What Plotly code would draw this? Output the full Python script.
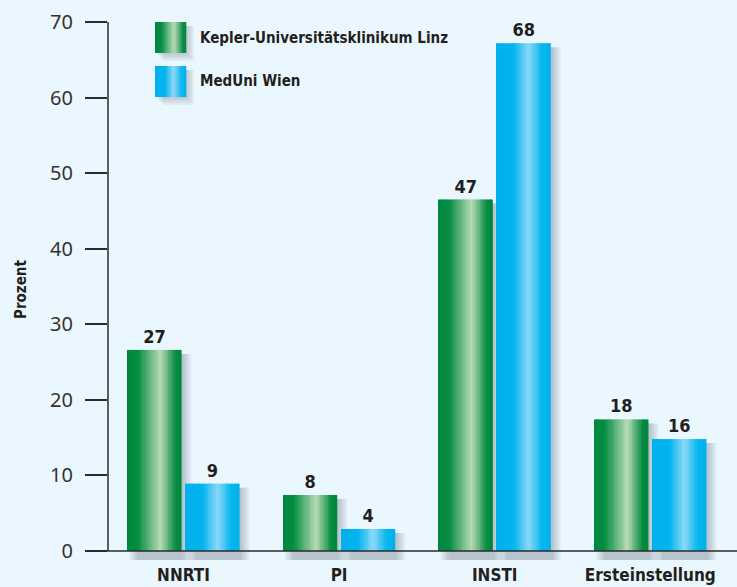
import plotly.graph_objects as go

categories = ["NNRTI", "PI", "INSTI", "Ersteinstellung"]
series_names = ["Kepler-Universitätsklinikum Linz", "MedUni Wien"]
linz_values = [26.6, 7.4, 46.5, 17.4]
wien_values = [8.9, 2.9, 67.2, 14.8]
linz_labels = ["27", "8", "47", "18"]
wien_labels = ["9", "4", "68", "16"]
y_ticks = [0, 10, 20, 30, 40, 50, 60, 70]

# ---- styling / layout constants ----
W, H = 737, 587
ML, MR, MT, MB = 108, 0, 22, 24
PW, PH = W - ML - MR, H - MT - MB
YMIN, YMAX = -1.6, 70
XMIN, XMAX = -0.485, 3.557
BG = "#EBF7FE"
COND = "DejaVu Sans Condensed, Liberation Sans Narrow, DejaVu Sans"
REG = "Noto Sans, Open Sans, sans-serif"
TXT = "#231f20"

green_stops = [(0.0, (0, 136, 62)), (0.2, (4, 140, 66)), (0.62, (184, 219, 182)),
               (0.9, (8, 139, 66)), (1.0, (0, 136, 62))]
blue_stops = [(0.0, (0, 176, 236)), (0.33, (4, 180, 238)), (0.6, (140, 216, 248)),
              (0.85, (6, 182, 238)), (1.0, (0, 178, 236))]


def grad(stops, t):
    for (t0, c0), (t1, c1) in zip(stops, stops[1:]):
        if t0 <= t <= t1:
            f = 0 if t1 == t0 else (t - t0) / (t1 - t0)
            c = [round(a + (b - a) * f) for a, b in zip(c0, c1)]
            return "rgb(%d,%d,%d)" % tuple(c)
    c = stops[-1][1]
    return "rgb(%d,%d,%d)" % c


px_per_x = PW / (XMAX - XMIN)
px_per_y = PH / (YMAX - YMIN)
BW = 54 / px_per_x
GAP = 4 / px_per_x
offsets = [-(BW + GAP / 2), GAP / 2]
N = 30

fig = go.Figure()

series = [(linz_values, linz_labels, green_stops), (wien_values, wien_labels, blue_stops)]

# shadows
for (vals, labs, stops), off in zip(series, offsets):
    for k, dx in enumerate([2, 4, 6, 8, 10]):
        down = 4 / px_per_y
        base = -(9 / px_per_y)
        fig.add_trace(go.Bar(
            x=categories, y=[v - down - base for v in vals], base=base,
            offset=off + dx / px_per_x, width=BW,
            marker=dict(color="rgba(70,90,100,0.07)", line=dict(width=0)),
            showlegend=False, hoverinfo="skip"))

# gradient strips
for (vals, labs, stops), off in zip(series, offsets):
    sw = BW / N
    for i in range(N):
        t = (i + 0.5) / N
        fig.add_trace(go.Bar(
            x=categories, y=vals, offset=off + i * sw, width=sw * 1.08,
            marker=dict(color=grad(stops, t), line=dict(width=0)),
            showlegend=False, hoverinfo="skip"))

# value labels
for (vals, labs, stops), off in zip(series, offsets):
    fig.add_trace(go.Bar(
        x=categories, y=vals, offset=off, width=BW,
        marker=dict(color="rgba(0,0,0,0)", line=dict(width=0)),
        text=labs, textposition="outside", constraintext="none", cliponaxis=False,
        textfont=dict(family=COND, size=18, color=TXT, weight="bold"),
        showlegend=False, hoverinfo="skip"))


def px_x(p):
    return (p - ML) / PW


def px_y(p):
    return (H - MB - p) / PH


shapes = []
# axis lines
y0p = px_y(MT + (YMAX - 0) * px_per_y)
shapes.append(dict(type="line", xref="paper", yref="paper", x0=px_x(86), x1=1, y0=y0p, y1=y0p,
                   line=dict(color="#2b2b2b", width=1.5)))
shapes.append(dict(type="line", xref="paper", yref="paper", x0=0, x1=0, y0=y0p, y1=1,
                   line=dict(color="#2b2b2b", width=1.5)))

# legend swatches
annotations = []
for j, (name, stops) in enumerate(zip(series_names, [green_stops, blue_stops])):
    top = 22 + j * 44
    left, size = 155, 31
    for dx in [2, 4, 6, 8]:
        shapes.append(dict(type="rect", xref="paper", yref="paper",
                           x0=px_x(left + dx), x1=px_x(left + size + dx),
                           y0=px_y(top + size + dx), y1=px_y(top + 4),
                           line=dict(width=0), fillcolor="rgba(70,90,100,0.07)", layer="above"))
    n = 16
    for i in range(n):
        t = (i + 0.5) / n
        shapes.append(dict(type="rect", xref="paper", yref="paper",
                           x0=px_x(left + size * i / n), x1=px_x(left + size * (i + 1) / n + 0.3),
                           y0=px_y(top + size), y1=px_y(top),
                           line=dict(width=0), fillcolor=grad(stops, t), layer="above"))
    annotations.append(dict(xref="paper", yref="paper", x=px_x(198), y=px_y(top + size / 2),
                            xanchor="left", yanchor="middle", showarrow=False, text=name,
                            font=dict(family=COND, size=15, color=TXT, weight="bold")))

annotations.append(dict(xref="paper", yref="paper", x=px_x(21), y=px_y(290),
                        xanchor="center", yanchor="middle", showarrow=False, text="Prozent",
                        textangle=-90, font=dict(family=COND, size=15, color=TXT, weight="bold")))

fig.update_layout(
    width=W, height=H, margin=dict(l=ML, r=MR, t=MT, b=MB, pad=0, autoexpand=False),
    paper_bgcolor=BG, plot_bgcolor=BG, barmode="overlay", hovermode=False,
    shapes=shapes, annotations=annotations, showlegend=False,
    xaxis=dict(range=[XMIN, XMAX], showgrid=False, zeroline=False, showline=False,
               automargin=False, ticks="", ticklen=0,
               tickfont=dict(family=COND, size=17, color=TXT, weight="bold")),
    yaxis=dict(range=[YMIN, YMAX], tickvals=y_ticks, showgrid=False, zeroline=False,
               automargin=False, showline=False, ticks="outside", ticklen=22, tickwidth=1.5,
               tickcolor="#2b2b2b", ticklabelstandoff=8,
               tickfont=dict(family=REG, size=20, color="#333333")),
)

fig.write_html("out.html")
